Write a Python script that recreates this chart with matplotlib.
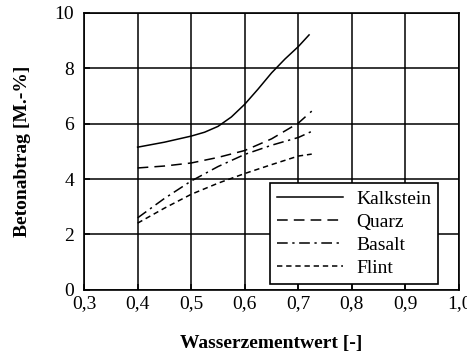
import matplotlib.pyplot as plt
from matplotlib.ticker import FuncFormatter

plt.rcParams['font.family'] = ['Liberation Serif', 'DejaVu Serif']

# Werte
w_z_kalk = [0.40, 0.45, 0.50, 0.525, 0.55, 0.575, 0.60, 0.625, 0.65, 0.675, 0.70, 0.72]
kalkstein = [5.15, 5.33, 5.55, 5.69, 5.90, 6.24, 6.70, 7.25, 7.83, 8.33, 8.78, 9.2]

w_z = [0.40, 0.45, 0.50, 0.55, 0.60, 0.65, 0.70, 0.725]
quarz = [4.40, 4.47, 4.58, 4.78, 5.03, 5.45, 6.02, 6.45]
basalt = [2.60, 3.30, 3.93, 4.45, 4.89, 5.22, 5.50, 5.72]
flint = [2.41, 2.95, 3.45, 3.85, 4.20, 4.52, 4.83, 4.90]

fig = plt.figure(figsize=(4.67, 3.54), dpi=100)
ax = fig.add_axes([0.18, 0.181, 0.803, 0.783])

ax.plot(w_z_kalk, kalkstein, color='black', lw=1.1, label='Kalkstein')
ax.plot(w_z, quarz, color='black', lw=1.1, dashes=(7, 4), label='Quarz')
ax.plot(w_z, basalt, color='black', lw=1.1, dashes=(7, 3, 1.5, 3), label='Basalt')
ax.plot(w_z, flint, color='black', lw=1.1, dashes=(3.5, 2.5), label='Flint')

ax.set_xlim(0.3, 1.0)
ax.set_ylim(0, 10)
ax.set_xticks([0.3, 0.4, 0.5, 0.6, 0.7, 0.8, 0.9, 1.0])
ax.set_yticks([0, 2, 4, 6, 8, 10])
ax.xaxis.set_major_formatter(FuncFormatter(lambda v, p: f'{v:.1f}'.replace('.', ',')))
ax.grid(True, color='black', lw=1.1)
ax.tick_params(direction='in', length=4, width=1.1, labelsize=14)
ax.tick_params(axis='x', pad=4)
ax.tick_params(axis='y', pad=7)
for s in ax.spines.values():
    s.set_linewidth(1.2)

ax.set_xlabel('Wasserzementwert [-]', fontsize=14, fontweight='bold', labelpad=16)
ax.set_ylabel('Betonabtrag [M.-%]', fontsize=14, fontweight='bold', labelpad=17)

leg = ax.legend(loc='lower right', bbox_to_anchor=(0.944, 0.022), fontsize=14,
                fancybox=False, framealpha=1, edgecolor='black',
                handlelength=3.4, handletextpad=0.7, labelspacing=0.28,
                borderpad=0.35, borderaxespad=0)
leg.get_frame().set_linewidth(1.2)

fig.savefig('out.png', dpi=100)
